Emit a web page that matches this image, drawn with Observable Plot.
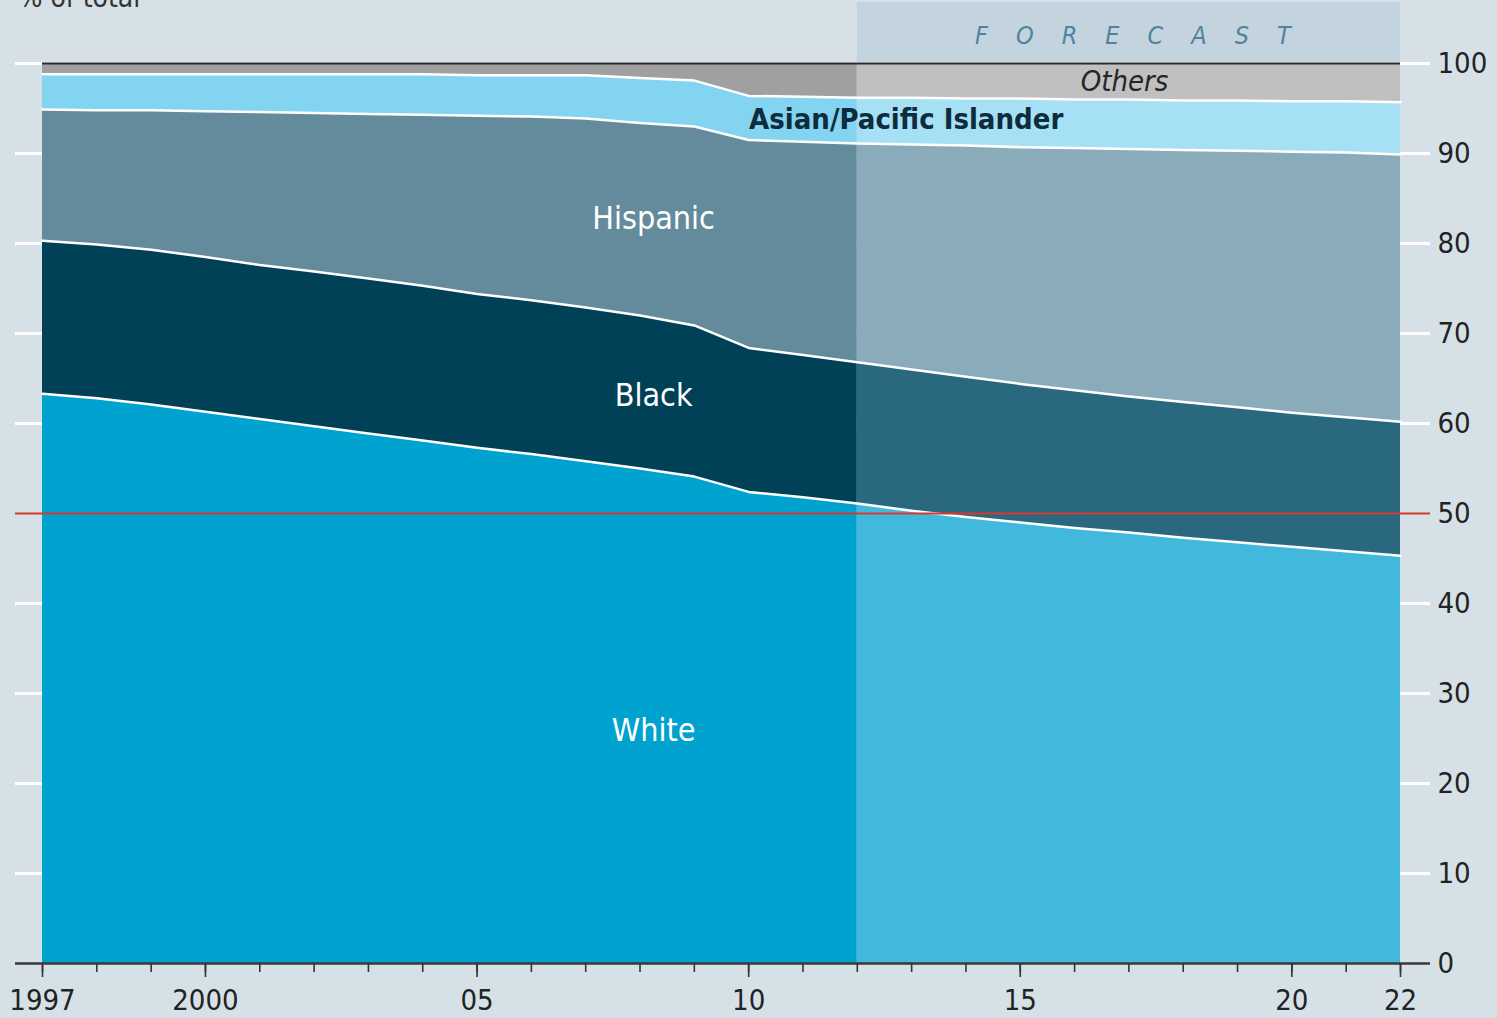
<!DOCTYPE html>
<html>
<head>
<meta charset="utf-8">
<script src="https://cdn.jsdelivr.net/npm/d3@7"></script>
<script src="https://cdn.jsdelivr.net/npm/@observablehq/plot@0.6"></script>
<style>
  html, body { margin: 0; padding: 0; background: #d6e1e7; overflow: hidden; }
  #chart svg { display: block; }
</style>
</head>
<body>
<div id="chart"></div>
<script>
// ---- data (shares, % of total) ----
const years = [1997,1998,1999,2000,2001,2002,2003,2004,2005,2006,2007,2008,2009,2010,2011,2012,2013,2014,2015,2016,2017,2018,2019,2020,2021,2022];
const white    = [63.3,62.8,62.1,61.3,60.5,59.7,58.9,58.1,57.3,56.6,55.8,55.0,54.1,52.4,51.8,51.1,50.3,49.6,49.0,48.4,47.9,47.3,46.8,46.3,45.8,45.3];
const black    = [17.0,17.1,17.2,17.2,17.1,17.2,17.2,17.2,17.1,17.1,17.1,17.0,16.8,16.0,15.8,15.7,15.7,15.6,15.4,15.3,15.1,15.1,15.0,14.9,14.9,14.9];
const hispanic = [14.6,14.9,15.5,16.2,17.0,17.6,18.3,19.0,19.8,20.4,21.0,21.4,22.1,23.1,23.7,24.3,25.0,25.7,26.3,26.9,27.5,28.0,28.5,29.0,29.4,29.7];
const asian    = [3.9,4.0,4.0,4.1,4.2,4.3,4.4,4.5,4.5,4.6,4.8,5.0,5.1,4.9,5.0,5.1,5.2,5.2,5.4,5.4,5.5,5.5,5.6,5.6,5.7,5.8];
const others   = [1.2,1.2,1.2,1.2,1.2,1.2,1.2,1.2,1.3,1.3,1.3,1.6,1.9,3.6,3.7,3.8,3.8,3.9,3.9,4.0,4.0,4.1,4.1,4.2,4.2,4.3];
const seriesNames = ["White","Black","Hispanic","Asian/Pacific Islander","Others"];
const yTicks = [0,10,20,30,40,50,60,70,80,90,100];
const xMajorTicks = [1997,2000,2005,2010,2015,2020,2022];
const forecastStart = 2012;
const lastYear = 2022;

const seriesValues = [white, black, hispanic, asian, others];
const rows = years.flatMap((yr, i) => seriesNames.map((s, j) => ({year: yr, series: s, share: seriesValues[j][i]})));

const labels = [
  {text: "Hispanic", year: 2008.25, value: 82.8},
  {text: "Black", year: 2008.25, value: 63.1},
  {text: "White", year: 2008.25, value: 25.9}
];
const asianLabel = [{text: "Asian/Pacific Islander", year: 2012.9, value: 93.8}];
const othersLabel = [{text: "Others", year: 2016.92, value: 98.0}];
const forecastLabel = [{text: "FORECAST", year: 2017, value: 103.1}];

const histColors = ["#00a2d0", "#004158", "#648b9b", "#82d4f0", "#a0a0a0"];
const foreColors = ["#42b8dd", "#2a6880", "#8aabba", "#a6e0f4", "#c0c0c0"];
const foreNames = seriesNames.map(s => s + " (forecast)");

const font = "'Liberation Sans Narrow', 'DejaVu Sans Condensed', sans-serif";
const ext = {insetLeft: -27, insetRight: -30};

const chart = Plot.plot({
  width: 1497,
  height: 1018,
  marginLeft: 42,
  marginRight: 97,
  marginTop: 63,
  marginBottom: 55,
  x: {domain: [1997, lastYear]},
  y: {domain: [0, 100]},
  color: {domain: [...seriesNames, ...foreNames], range: [...histColors, ...foreColors]},
  style: {background: "#d6e1e7", fontFamily: font, overflow: "visible"},
  marks: [
    Plot.text(["% of total"], {frameAnchor: "top-left", dx: -24, dy: -57, lineAnchor: "bottom", textAnchor: "start", fontSize: 28, fill: "#333"}),
    Plot.rect([0], {x1: forecastStart, x2: lastYear, y1: 100, y2: 100, insetTop: -61, fill: "#c3d4de"}),
    Plot.ruleY(yTicks.filter(d => d !== 0 && d !== 50), {stroke: "white", strokeWidth: 3, ...ext}),
    Plot.areaY(rows.filter(d => d.year <= forecastStart), {x: "year", y: "share", z: "series", fill: "series"}),
    Plot.areaY(rows.filter(d => d.year >= forecastStart), {x: "year", y: "share", z: "series", fill: d => d.series + " (forecast)"}),
    Plot.lineY(rows.filter(d => d.series !== "Others"), Plot.stackY2({x: "year", y: "share", z: "series", stroke: "white", strokeWidth: 2.5})),
    Plot.ruleY([100], {stroke: "#2a2a2a", strokeWidth: 2}),
    Plot.ruleY([50], {stroke: "#d8382e", strokeWidth: 2, ...ext}),
    Plot.ruleY([0], {stroke: "#3a3a3a", strokeWidth: 2.5, ...ext}),
    Plot.axisY(yTicks, {anchor: "right", tickSize: 0, tickPadding: 37, fontSize: 29, fill: "#222", label: null}),
    Plot.axisX(years, {tickSize: 9, tickFormat: () => "", stroke: "#333", strokeWidth: 1.6, label: null}),
    Plot.axisX(xMajorTicks, {tickSize: 14, tickPadding: 12, stroke: "#333", strokeWidth: 1.6, fontSize: 29, fill: "#222", label: null,
      tickFormat: d => (d === 1997 || d === 2000) ? String(d) : String(d).slice(2)}),
    Plot.text(labels, {x: "year", y: "value", text: "text", fill: "white", fontSize: 32}),
    Plot.text(asianLabel, {x: "year", y: "value", text: "text", fill: "#0d2c3d", fontSize: 29, fontWeight: "bold"}),
    Plot.text(othersLabel, {x: "year", y: "value", text: "text", fill: "#262626", fontSize: 29, fontStyle: "italic"}),
    Plot.text(forecastLabel, {x: "year", y: "value", text: "text", fill: "#4f84a0", fontSize: 25, fontStyle: "italic", dx: 18})
  ]
});

d3.select(chart).selectAll("text").filter(function() { return this.textContent === "FORECAST"; })
  .attr("letter-spacing", "28px");

document.getElementById("chart").appendChild(chart);
</script>
</body>
</html>
